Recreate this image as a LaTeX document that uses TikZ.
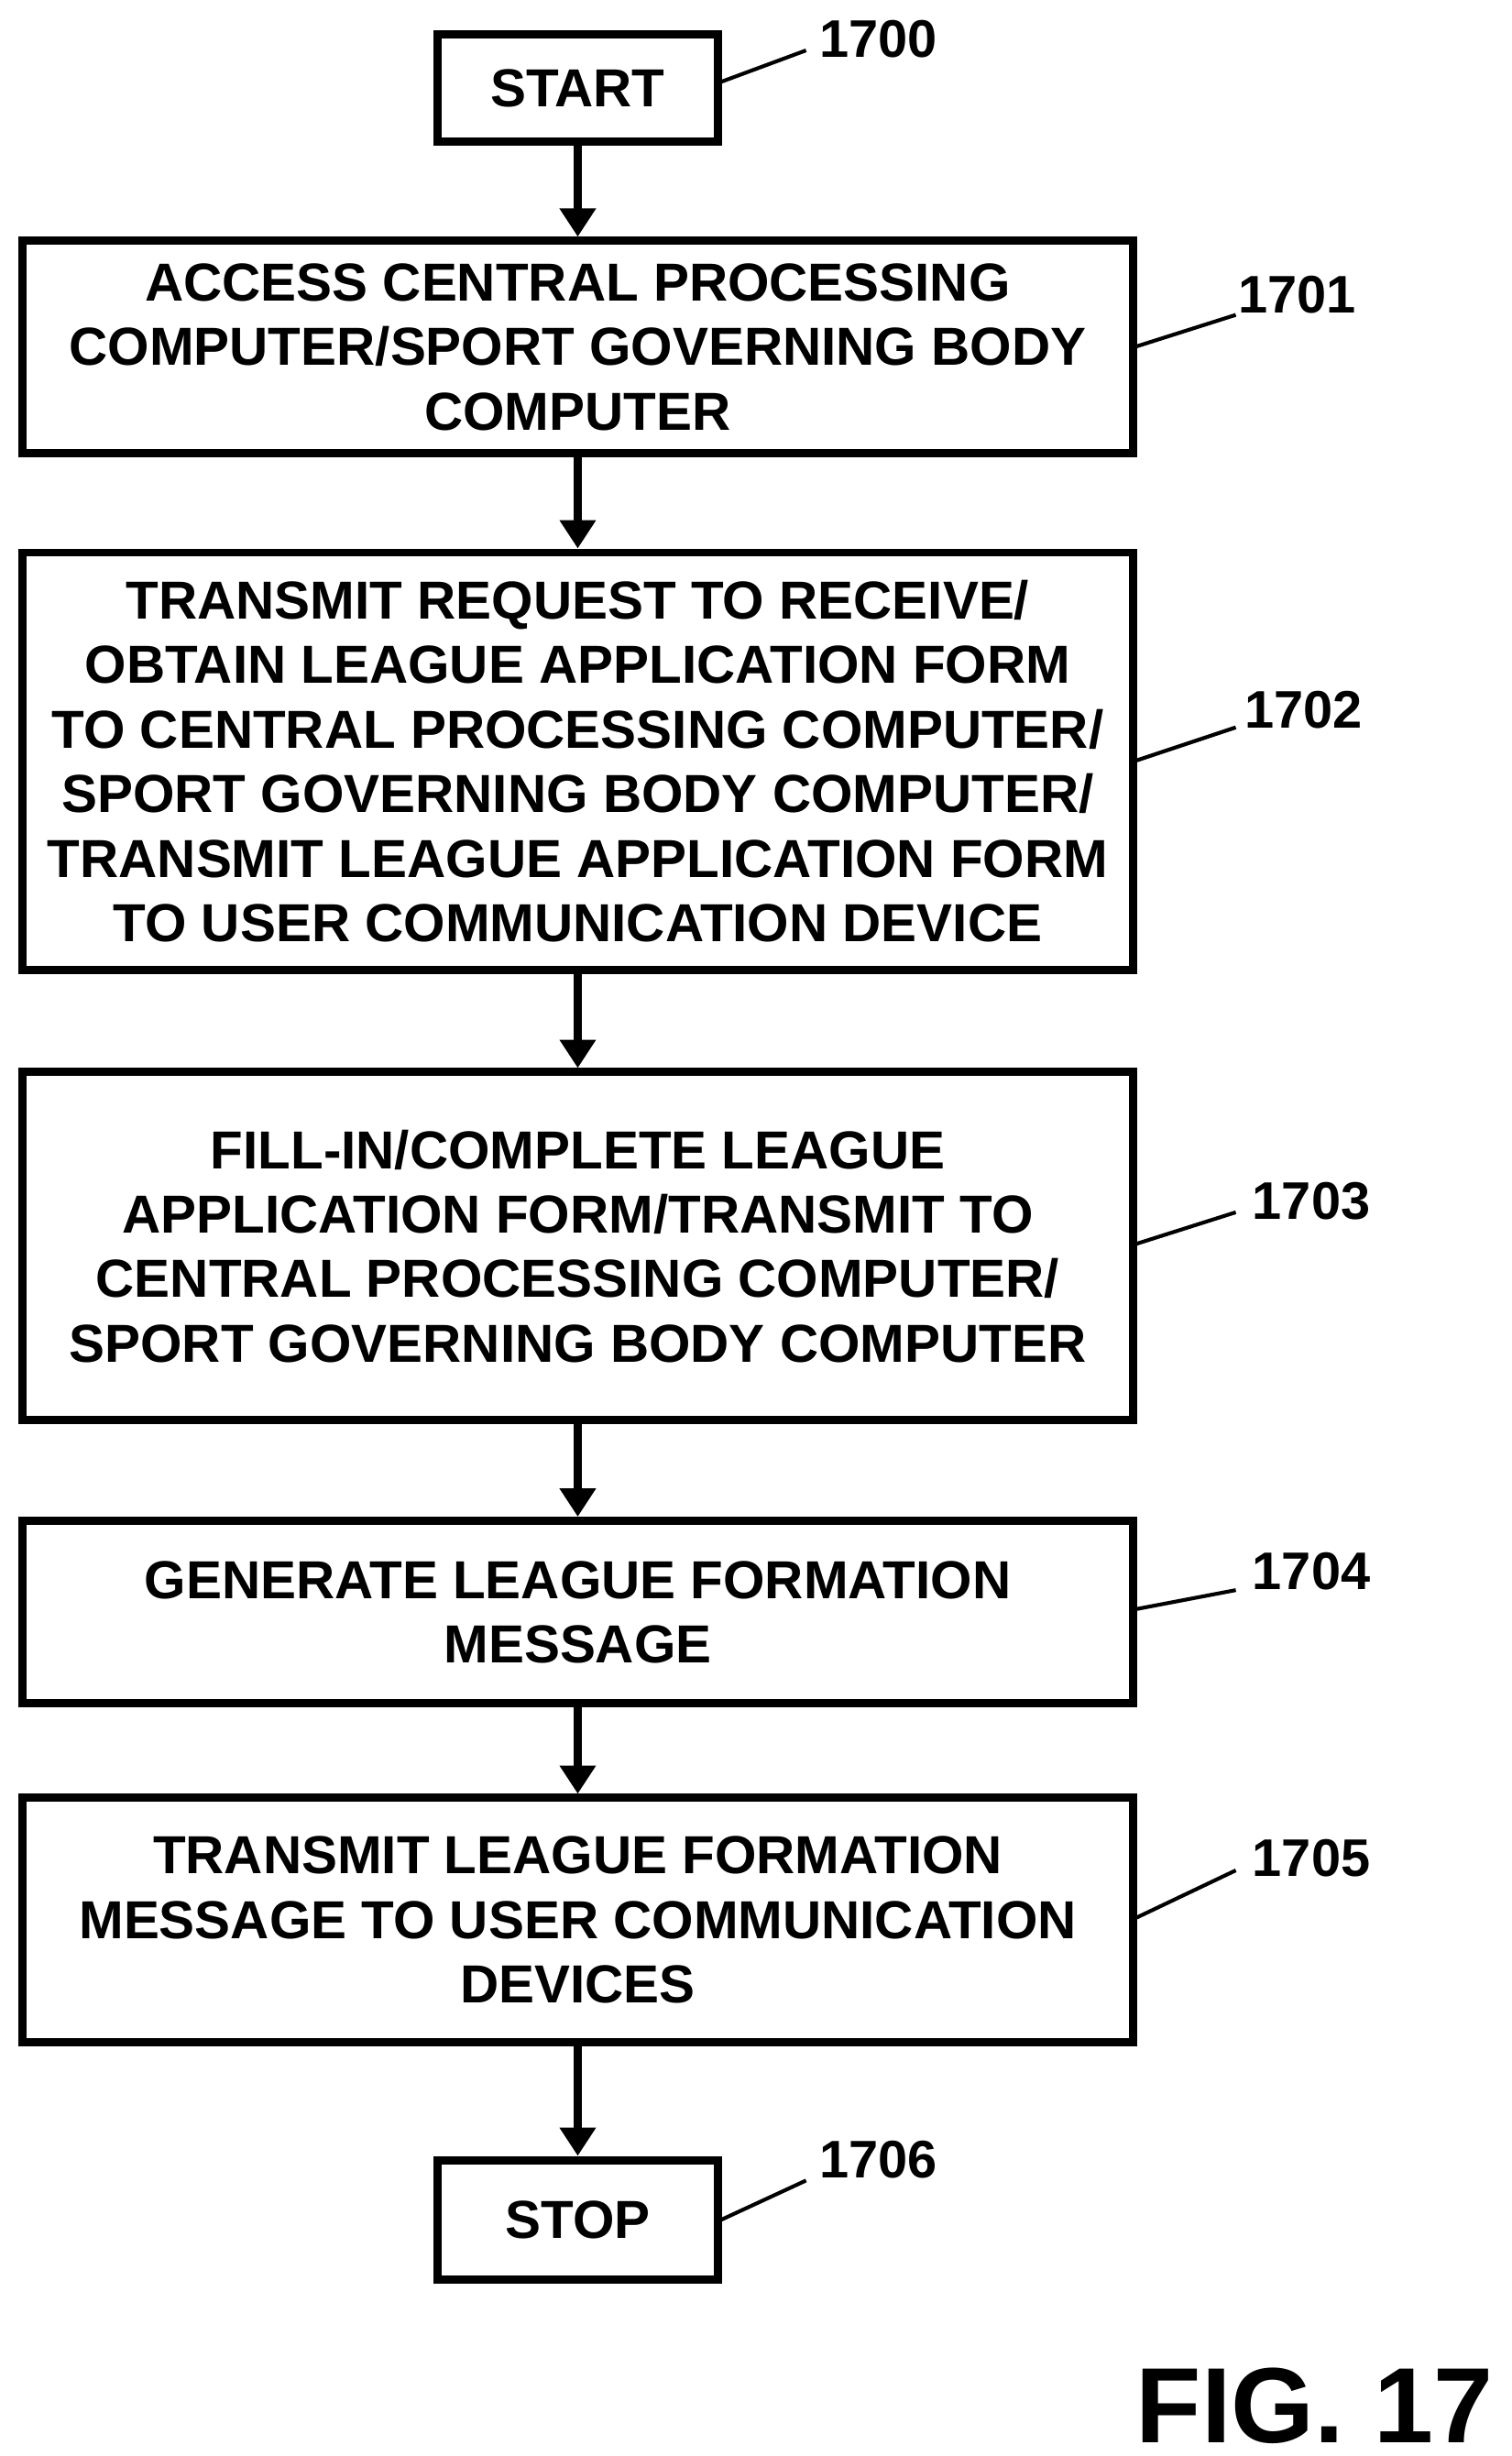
\documentclass[tikz,border=0pt]{standalone}
\usepackage{fontspec}
\setmainfont{Liberation Sans}
\usetikzlibrary{arrows.meta}
\begin{document}
\begin{tikzpicture}[x=0.5pt,y=-0.5pt,
  box/.style={draw,line width=2.6pt,inner sep=0pt,align=center,font=\bfseries\fontsize{17}{20.5}\selectfont},
  lbl/.style={font=\bfseries\fontsize{16.8}{18}\selectfont},
  lead/.style={line width=1.2pt},
  arr/.style={line width=2.6pt,-{Triangle[length=9pt,width=11pt]}}]
\useasboundingbox (0,0) rectangle (960,1560);
\node[box,minimum width=89pt,minimum height=34pt] (s) at (367,56) {START};
\node[box,minimum width=353pt,minimum height=67.5pt] (a) at (367,220.5) {ACCESS CENTRAL PROCESSING\\COMPUTER/SPORT GOVERNING BODY\\COMPUTER};
\node[box,minimum width=353pt,minimum height=132.5pt] (b) at (367,483.5) {TRANSMIT REQUEST TO RECEIVE/\\OBTAIN LEAGUE APPLICATION FORM\\TO CENTRAL PROCESSING COMPUTER/\\SPORT GOVERNING BODY COMPUTER/\\TRANSMIT LEAGUE APPLICATION FORM\\TO USER COMMUNICATION DEVICE};
\node[box,minimum width=353pt,minimum height=110.5pt] (c) at (367,791.5) {FILL-IN/COMPLETE LEAGUE\\APPLICATION FORM/TRANSMIT TO\\CENTRAL PROCESSING COMPUTER/\\SPORT GOVERNING BODY COMPUTER};
\node[box,minimum width=353pt,minimum height=58pt] (d) at (367,1024) {GENERATE LEAGUE FORMATION\\MESSAGE};
\node[box,minimum width=353pt,minimum height=77.5pt] (e) at (367,1219.5) {TRANSMIT LEAGUE FORMATION\\MESSAGE TO USER COMMUNICATION\\DEVICES};
\node[box,minimum width=89pt,minimum height=38pt] (t) at (367,1410) {STOP};
\draw[arr] (s) -- (a); \draw[arr] (a) -- (b); \draw[arr] (b) -- (c);
\draw[arr] (c) -- (d); \draw[arr] (d) -- (e); \draw[arr] (e) -- (t);
\node[lbl] (l0) at (558,25) {1700}; \draw[lead] (458,52) -- (512,32);
\node[lbl] (l1) at (824,187) {1701}; \draw[lead] (722,220) -- (785,200);
\node[lbl] (l2) at (828,451) {1702}; \draw[lead] (722,483) -- (785,462);
\node[lbl] (l3) at (833,763) {1703}; \draw[lead] (722,790) -- (785,770);
\node[lbl] (l4) at (833,998) {1704}; \draw[lead] (722,1022) -- (785,1010);
\node[lbl] (l5) at (833,1180) {1705}; \draw[lead] (722,1218) -- (785,1188);
\node[lbl] (l6) at (558,1372) {1706}; \draw[lead] (458,1410) -- (512,1385);
\node[font=\bfseries\fontsize{34}{34}\selectfont,inner sep=0pt] (fig) at (835,1528) {FIG. 17};
\end{tikzpicture}
\end{document}
